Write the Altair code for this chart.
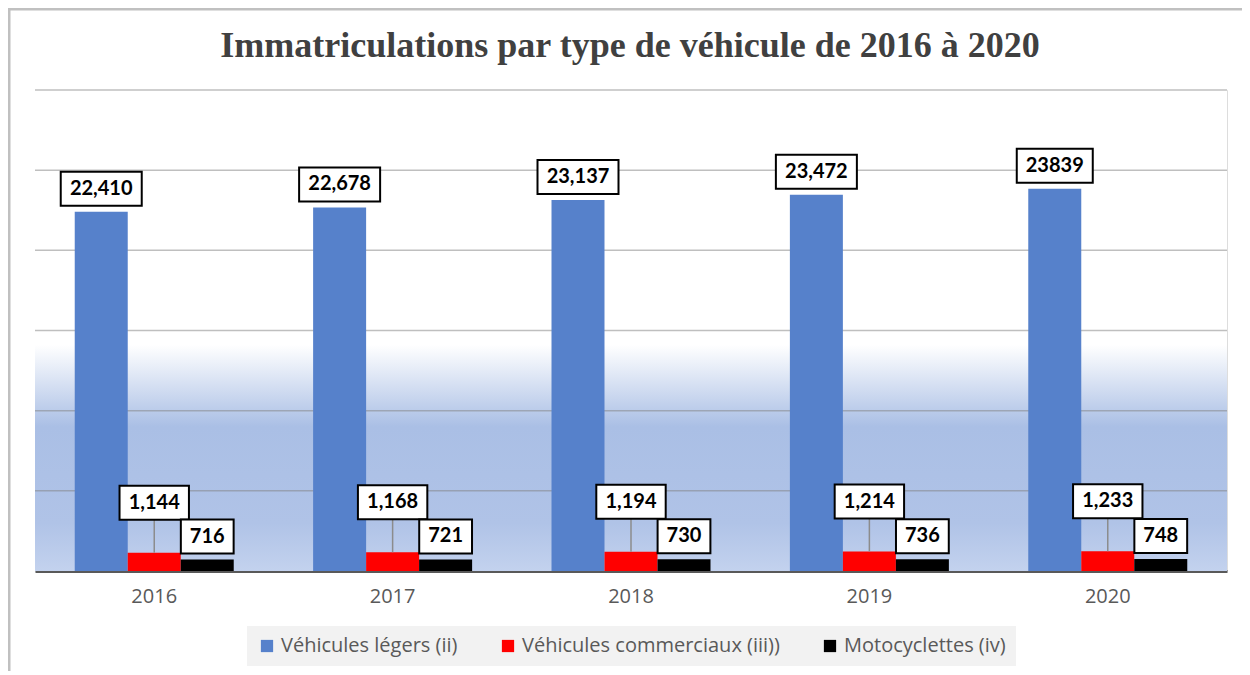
import altair as alt
import pandas as pd

title_text = "Immatriculations  par type de véhicule de 2016 à 2020"
years = ["2016", "2017", "2018", "2019", "2020"]
series_names = ["Véhicules légers (ii)", "Véhicules commerciaux (iii))", "Motocyclettes (iv)"]
legers = [22410, 22678, 23137, 23472, 23839]
commerciaux = [1144, 1168, 1194, 1214, 1233]
motos = [716, 721, 730, 736, 748]
labels_legers = ["22,410", "22,678", "23,137", "23,472", "23839"]
labels_commerciaux = ["1,144", "1,168", "1,194", "1,214", "1,233"]
labels_motos = ["716", "721", "730", "736", "748"]
grid_ticks = [5000, 10000, 15000, 20000, 25000, 30000]
colors = ["#5681cb", "#ff0000", "#000000"]

rows = []
for vals, labs, name in [(legers, labels_legers, series_names[0]),
                         (commerciaux, labels_commerciaux, series_names[1]),
                         (motos, labels_motos, series_names[2])]:
    for y, v, l in zip(years, vals, labs):
        rows.append({"year": y, "series": name, "value": v, "label": l})
df = pd.DataFrame(rows)

W, H = 1192, 481
SANS = "Open Sans"
BOLD = "Lato"

yscale = alt.Scale(domain=[0, 30000], nice=False, zero=True)
xenc = alt.X("year:N", sort=years,
             scale=alt.Scale(paddingInner=0.333, paddingOuter=0.1667),
             axis=alt.Axis(title=None, labelAngle=0, ticks=False, grid=False,
                           domainColor="#595959", domainWidth=3,
                           labelFont=SANS, labelFontSize=20, labelColor="#595959",
                           labelPadding=15))
xoff = alt.XOffset("series:N", sort=series_names, scale=alt.Scale(paddingInner=0))
yenc = alt.Y("value:Q", scale=yscale, axis=None)

base = alt.Chart(df)
one = pd.DataFrame({"a": [0]})

gradient = {
    "gradient": "linear", "x1": 0, "y1": 0, "x2": 0, "y2": 1,
    "stops": [
        {"offset": 0.0, "color": "#ffffff"},
        {"offset": 0.53, "color": "#ffffff"},
        {"offset": 0.70, "color": "#aabfe5"},
        {"offset": 0.90, "color": "#b0c3e7"},
        {"offset": 1.0, "color": "#c3d2ee"},
    ],
}
bg = alt.Chart(one).mark_rect(fill=gradient).encode(
    x=alt.value(0), x2=alt.value(W), y=alt.value(0), y2=alt.value(H)
)

grid = alt.Chart(pd.DataFrame({"v": grid_ticks})).mark_rule(
    color="#7f7f7f", opacity=0.5, strokeWidth=1.5
).encode(y=alt.Y("v:Q", scale=yscale, axis=None))

top_border = alt.Chart(one).mark_rule(
    color="#c0c0c0", strokeWidth=3
).encode(x=alt.value(-27), x2=alt.value(W + 15), y=alt.value(-81))
left_border = alt.Chart(one).mark_rule(
    color="#c0c0c0", strokeWidth=3
).encode(x=alt.value(-26), y=alt.value(-82), y2=alt.value(H + 100))

title = alt.Chart(one).mark_text(
    text=title_text, font="Liberation Serif", fontSize=36, fontWeight="bold",
    color="#404040", align="center", baseline="alphabetic"
).encode(x=alt.value(W / 2 - 1), y=alt.value(-33))

bars = base.mark_bar(strokeWidth=0).encode(
    x=xenc, xOffset=xoff, y=yenc,
    color=alt.Color("series:N", sort=series_names,
                    scale=alt.Scale(domain=series_names, range=colors),
                    legend=alt.Legend(title=None, orient="none", legendX=212, legendY=536,
                                      direction="horizontal", symbolType="square",
                                      symbolSize=150, symbolStrokeWidth=0,
                                      labelFont=SANS, labelFontSize=20, labelLimit=0,
                                      labelColor="#595959", columnPadding=40,
                                      fillColor="#f2f2f2", padding=10,
                                      symbolOffset=0, labelOffset=4)),
)

leader = base.transform_filter(alt.datum.series == series_names[1]).mark_point(
    shape="M0,0V-33", size=4, filled=False, stroke="#8c8c8c", strokeWidth=1.5, opacity=1
).encode(x=xenc, xOffset=xoff, y=yenc)

boxes = base.transform_calculate(
    nd="length(replace(datum.label, ',', ''))",
).transform_calculate(
    hw="(datum.nd * 11.6 + (length(datum.label) - datum.nd) * 5 + 18) / 2",
    top="datum.series == '%s' ? -67 : -40" % series_names[1],
).transform_calculate(
    box="'M' + (-datum.hw) + ',' + datum.top + 'H' + datum.hw + 'V' + (datum.top + 34) + 'H' + (-datum.hw) + 'Z'"
).mark_point(
    size=4, filled=True, fill="white", stroke="black", strokeWidth=2,
    opacity=1, fillOpacity=1, strokeOpacity=1
).encode(x=xenc, xOffset=xoff, y=yenc,
         shape=alt.Shape("box:N", scale=None, legend=None))

texts = []
for name, dy in [(series_names[0], -23), (series_names[1], -50), (series_names[2], -23)]:
    texts.append(
        base.transform_filter(alt.datum.series == name).mark_text(
            font=BOLD, fontSize=20, fontWeight="bold", color="#000000",
            dy=dy, baseline="middle", align="center"
        ).encode(x=xenc, xOffset=xoff, y=yenc, text="label:N")
    )

chart = alt.layer(bg, grid, top_border, left_border, title, bars, leader, boxes, *texts).properties(
    width=W, height=H,
    autosize=alt.AutoSizeParams(type="none"),
    padding={"left": 27, "top": 82, "right": 15, "bottom": 100},
).configure_view(stroke=None).configure(background="white")

chart.save("out.html", embed_options={"renderer": "svg", "actions": False})
